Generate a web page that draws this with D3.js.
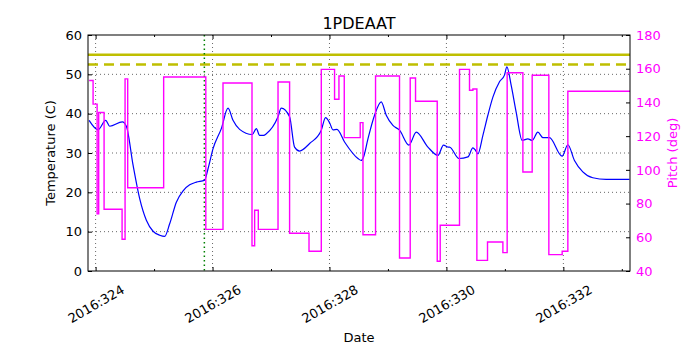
<!DOCTYPE html>
<html>
<head>
<meta charset="utf-8">
<script src="https://cdnjs.cloudflare.com/ajax/libs/d3/7.8.5/d3.min.js"></script>
<style>
  body { margin: 0; background: #fff; }
  text { font-family: "DejaVu Sans", sans-serif; }
</style>
</head>
<body>
<div id="chart"></div>
<script>
// Data (day of year 2016)
var tempDays = [323.889, 324.043, 324.173, 324.241, 324.458, 324.526, 324.641, 324.754, 324.868, 324.983,
  325.096, 325.181, 325.267, 325.381, 325.496, 325.609, 325.723, 325.865, 325.923, 326.009,
  326.150, 326.265, 326.350, 326.463, 326.680, 326.749, 326.805, 326.874, 326.920, 327.120,
  327.176, 327.318, 327.403, 327.489, 327.660, 327.860, 327.933, 328.002, 328.060, 328.128,
  328.258, 328.487, 328.544, 328.583, 328.658, 328.771, 328.885, 328.971, 329.085, 329.198,
  329.359, 329.484, 329.684, 329.855, 329.950, 330.026, 330.053, 330.214, 330.368, 330.453,
  330.497, 330.538, 330.624, 330.709, 330.795, 330.908, 330.993, 331.034, 331.108, 331.193,
  331.296, 331.393, 331.467, 331.564, 331.650, 331.762, 331.979, 332.077, 332.190, 332.333,
  332.504, 332.732, 333.130];
var tempValues = [38.3, 35.9, 38.3, 36.8, 37.9, 36.8, 26.9, 18.4, 12.9, 10.1,
  9.1, 8.8, 12.0, 17.5, 20.4, 21.9, 22.6, 23.1, 26.0, 31.1,
  36.2, 41.4, 38.3, 36.0, 34.7, 36.2, 34.5, 34.5, 34.9, 39.2,
  41.4, 39.2, 31.5, 30.5, 32.4, 35.8, 39.0, 37.7, 35.9, 36.0,
  32.8, 28.6, 28.1, 29.0, 33.6, 39.6, 43.0, 39.6, 37.0, 35.8,
  32.0, 35.3, 31.5, 29.4, 32.0, 31.5, 31.5, 28.6, 29.0, 31.3,
  30.7, 29.8, 34.5, 39.6, 44.2, 48.1, 49.8, 51.9, 47.2, 40.4,
  33.2, 33.6, 33.2, 35.3, 33.9, 33.9, 29.2, 32.1, 28.1, 25.2,
  23.7, 23.3, 23.3];

var pitchDays = [323.889, 323.957, 324.026, 324.053, 324.145, 324.453, 324.504, 324.549, 325.164, 325.885,
  326.179, 326.675, 326.720, 326.783, 327.120, 327.318, 327.650, 327.860, 328.087, 328.162,
  328.253, 328.526, 328.573, 328.788, 329.198, 329.381, 329.472, 329.843, 329.894, 330.224,
  330.395, 330.453, 330.521, 330.703, 330.966, 331.039, 331.308, 331.467, 331.752, 331.980,
  332.077, 333.150];
var pitchValues = [153, 139, 74, 134, 76.6, 58.8, 154, 89.4, 155.1, 64.7,
  151.5, 55, 76, 64.7, 152.1, 62.4, 51.7, 159.6, 141.9, 155.7,
  119.1, 128, 61.5, 155.7, 47.7, 154.5, 140.7, 45.8, 67.1, 159.6,
  147.2, 148, 46.3, 57.2, 50.9, 157.6, 98.7, 156.1, 49.7, 51.7,
  146.6, 146.8];

var majorTicks = [324, 326, 328, 330, 332];
var minorTicks = [325, 327, 329, 331, 333];
var tempTicks = [0, 10, 20, 30, 40, 50, 60];
var pitchTicks = [40, 60, 80, 100, 120, 140, 160, 180];
var limitLines = [55, 52.5];   // solid, dashed
var markerDay = 325.86;

var margin = { top: 35, right: 70, bottom: 79, left: 88 },
  width = 700 - margin.left - margin.right,
  height = 350 - margin.top - margin.bottom;

var svg = d3.select("#chart")
  .append("svg")
  .attr("width", 700)
  .attr("height", 350);

var g = svg.append("g")
  .attr("transform", "translate(" + margin.left + "," + margin.top + ")");

var x = d3.scaleLinear().domain([323.87, 333.14]).range([0, width]);
var yT = d3.scaleLinear().domain([0, 60]).range([height, 0]);
var yP = d3.scaleLinear().domain([40, 180]).range([height, 0]);

g.append("clipPath").attr("id", "clip")
  .append("rect").attr("width", width).attr("height", height);

// grid
g.selectAll(".vgrid").data(majorTicks).enter().append("line")
  .attr("x1", d => x(d)).attr("x2", d => x(d))
  .attr("y1", 0).attr("y2", height)
  .attr("stroke", "#000").attr("stroke-width", 0.6)
  .attr("stroke-dasharray", "1,3");
g.selectAll(".hgrid").data(tempTicks.slice(1, -1)).enter().append("line")
  .attr("x1", 0).attr("x2", width)
  .attr("y1", d => yT(d)).attr("y2", d => yT(d))
  .attr("stroke", "#000").attr("stroke-width", 0.6)
  .attr("stroke-dasharray", "1,3");

var plot = g.append("g").attr("clip-path", "url(#clip)");

// limit lines
plot.append("line")
  .attr("x1", 0).attr("x2", width)
  .attr("y1", yT(limitLines[0])).attr("y2", yT(limitLines[0]))
  .attr("stroke", "#bfbf00").attr("stroke-width", 2.5);
plot.append("line")
  .attr("x1", 0).attr("x2", width)
  .attr("y1", yT(limitLines[1])).attr("y2", yT(limitLines[1]))
  .attr("stroke", "#bfbf00").attr("stroke-width", 2.5)
  .attr("stroke-dasharray", "10,6");

// marker line
plot.append("line")
  .attr("x1", x(markerDay)).attr("x2", x(markerDay))
  .attr("y1", 0).attr("y2", height)
  .attr("stroke", "#008000").attr("stroke-width", 1.5)
  .attr("stroke-dasharray", "1.5,3");

// temperature
var tempLine = d3.line()
  .x((d, i) => x(tempDays[i]))
  .y(d => yT(d))
  .curve(d3.curveMonotoneX);
plot.append("path")
  .attr("d", tempLine(tempValues))
  .attr("fill", "none")
  .attr("stroke", "#0000ff")
  .attr("stroke-width", 1.2);

// pitch
var pitchLine = d3.line()
  .x((d, i) => x(pitchDays[i]))
  .y(d => yP(d))
  .curve(d3.curveStepAfter);
plot.append("path")
  .attr("d", pitchLine(pitchValues))
  .attr("fill", "none")
  .attr("stroke", "#ff00ff")
  .attr("stroke-width", 1.4);

// axes
var xAxis = g.append("g")
  .attr("transform", "translate(0," + height + ")")
  .call(d3.axisBottom(x).tickValues(majorTicks).tickSize(-4).tickPadding(0)
    .tickFormat(d => "2016:" + d));
xAxis.selectAll("text")
  .attr("font-size", 13)
  .attr("fill", "#000")
  .style("text-anchor", "middle")
  .attr("x", 0).attr("y", 0).attr("dy", "0.35em")
  .attr("transform", "translate(0,33) rotate(-30)");
g.append("g")
  .attr("transform", "translate(0," + height + ")")
  .call(d3.axisBottom(x).tickValues(minorTicks).tickSize(-2).tickFormat(""));
g.append("g")
  .call(d3.axisTop(x).tickValues(majorTicks).tickSize(-4).tickFormat(""));
g.append("g")
  .call(d3.axisTop(x).tickValues(minorTicks).tickSize(-2).tickFormat(""));

var yAxisL = g.append("g")
  .call(d3.axisLeft(yT).tickValues(tempTicks).tickSize(-4).tickPadding(6));
yAxisL.selectAll("text").attr("font-size", 13).attr("fill", "#000");

var yAxisR = g.append("g")
  .attr("transform", "translate(" + width + ",0)")
  .call(d3.axisRight(yP).tickValues(pitchTicks).tickSize(-4).tickPadding(6));
yAxisR.selectAll("text").attr("font-size", 13).attr("fill", "#ff00ff");

g.selectAll(".domain").remove();
g.append("rect")
  .attr("width", width).attr("height", height)
  .attr("fill", "none").attr("stroke", "#000").attr("stroke-width", 1);

// labels
svg.append("text")
  .attr("x", margin.left + width / 2).attr("y", 29)
  .attr("text-anchor", "middle")
  .attr("font-size", 16)
  .text("1PDEAAT");

svg.append("text")
  .attr("x", margin.left + width / 2).attr("y", 342)
  .attr("text-anchor", "middle")
  .attr("font-size", 13)
  .text("Date");

svg.append("text")
  .attr("transform", "translate(55," + (margin.top + height / 2) + ") rotate(-90)")
  .attr("text-anchor", "middle")
  .attr("font-size", 13)
  .text("Temperature (C)");

svg.append("text")
  .attr("transform", "translate(677," + (margin.top + height / 2) + ") rotate(-90)")
  .attr("text-anchor", "middle")
  .attr("font-size", 13)
  .attr("fill", "#ff00ff")
  .text("Pitch (deg)");
</script>
</body>
</html>
